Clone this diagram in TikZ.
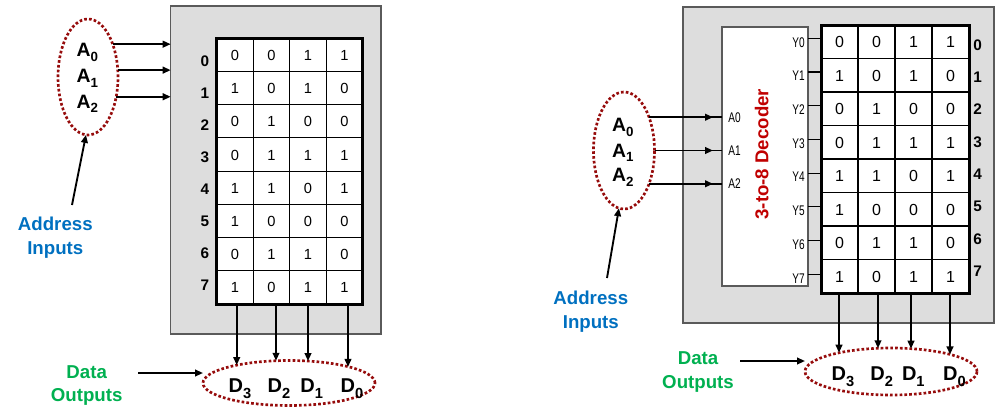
\documentclass[tikz,border=0pt]{standalone}
\usepackage{graphicx}
\usepackage{fontspec}
\setmainfont{Liberation Sans}
\usetikzlibrary{shapes.geometric,arrows.meta,calc}
\definecolor{boxgray}{RGB}{221,221,221}
\definecolor{boxedge}{RGB}{90,90,90}
\definecolor{dotred}{RGB}{150,12,12}
\definecolor{addrblue}{RGB}{0,112,192}
\definecolor{datagreen}{RGB}{0,176,80}
\definecolor{decred}{RGB}{192,0,0}
\newcommand{\subs}[1]{\raisebox{-3.5pt}{\fontsize{10}{11}\selectfont #1}}
\newcommand{\dsubs}[1]{\raisebox{-4.5pt}{\fontsize{11}{11}\selectfont #1}}
\newcommand{\narrowtxt}[1]{\scalebox{0.72}[1]{#1}}
\tikzset{
  graybox/.style={draw=boxedge, line width=0.8pt, fill=boxgray, inner sep=0pt, outer sep=0pt},
  tabbox/.style={draw=black, line width=2.25pt, fill=white, inner sep=0pt, outer sep=0pt},
  decbox/.style={draw=boxedge, line width=0.8pt, fill=white, inner sep=0pt, outer sep=0pt},
  gridline/.style={line width=0.85pt, draw=black},
  cell/.style={font=\fontsize{11}{12}\selectfont, inner sep=0pt},
  cellR/.style={font=\fontsize{12}{13}\selectfont, inner sep=0pt},
  rowlab/.style={font=\bfseries\fontsize{11.5}{12}\selectfont, inner sep=0pt},
  dotell/.style={ellipse, draw=dotred, line width=2pt, dash pattern=on 2pt off 1.6pt, inner sep=0pt, outer sep=0pt},
  alab/.style={font=\bfseries\fontsize{14.5}{16}\selectfont, inner sep=0pt, anchor=base},
  dlab/.style={font=\bfseries\fontsize{15}{16}\selectfont, inner sep=0pt, anchor=base},
  conn/.style={line width=1.4pt, -{Triangle[length=6pt,width=5pt]}},
  plainconn/.style={line width=1.4pt},
  addrtxt/.style={font=\bfseries\fontsize{14}{16}\selectfont, text=addrblue, inner sep=0pt, anchor=base},
  datatxt/.style={font=\bfseries\fontsize{14}{16}\selectfont, text=datagreen, inner sep=0pt, anchor=base},
  pinlab/.style={font=\fontsize{10.5}{11}\selectfont, inner sep=0pt},
  dectitle/.style={font=\bfseries\fontsize{14}{16}\selectfont, text=decred, inner sep=0pt, rotate=90},
}
\begin{document}
\begin{tikzpicture}[x=0.75pt,y=-0.75pt]
\useasboundingbox (0,0) rectangle (995,407);

% ================= LEFT DIAGRAM =================
\node[graybox, minimum width=157.7pt, minimum height=246pt] (grayL) at (275.85,170) {};
\node[tabbox, minimum width=109.5pt, minimum height=199.3pt] (tabL) at (289.7,171.15) {};
\foreach \i in {1,...,7}
  \draw[gridline] ($(tabL.north west)+(0,\i*33.2)$) -- ($(tabL.north east)+(0,\i*33.2)$);
\foreach \i in {1,2,3}
  \draw[gridline] ($(tabL.north west)+(\i*36.5,0)$) -- ($(tabL.south west)+(\i*36.5,0)$);
\draw[line width=2.25pt] (tabL.north west) rectangle (tabL.south east);
\foreach \r/\va/\vb/\vc/\vd in {0/0/0/1/1, 1/1/0/1/0, 2/0/1/0/0, 3/0/1/1/1, 4/1/1/0/1, 5/1/0/0/0, 6/0/1/1/0, 7/1/0/1/1} {
  \foreach \v [count=\k] in {\va,\vb,\vc,\vd}
    \node[cell] (cL-\r-\k) at ($(tabL.north west)+(\k*36.5-18.25,\r*33.2+17.2)$) {\v};
  \node[rowlab] (rL\r) at (205,61+32.1*\r) {\r};
}

% address ellipse
\node[dotell, minimum width=45pt, minimum height=87pt] (ellAL) at (88,77) {};
\node[alab] (aL0) at (87.3,56.7) {A\subs{0}};
\node[alab] (aL1) at (87.3,82.7) {A\subs{1}};
\node[alab] (aL2) at (87.3,108.3) {A\subs{2}};
\draw[conn] (ellAL.53.2) -- (ellAL.53.2 -| grayL.west);
\draw[conn] (ellAL.13.2) -- (ellAL.13.2 -| grayL.west);
\draw[conn] (ellAL.-35.4) -- (ellAL.-35.4 -| grayL.west);

\node[addrtxt] (addrL1) at (55.3,230) {Address};
\node[addrtxt] (addrL2) at (55.3,254) {Inputs};
\coordinate (paL) at (72,205);
\draw[conn] (paL) -- (ellAL.268);

% data ellipse
\node[dotell, minimum width=129pt, minimum height=33.75pt] (ellDL) at (289,383) {};
\node[dlab] (dL3) at (240,392) {D\dsubs{3}};
\node[dlab] (dL2) at (279,392) {D\dsubs{2}};
\node[dlab] (dL1) at (311.7,392) {D\dsubs{1}};
\node[dlab] (dL0) at (352,392) {D\dsubs{0}};
\coordinate (oL1) at ($(tabL.south west)+(20,0)$);
\coordinate (oL2) at ($(tabL.south west)+(59.3,0)$);
\coordinate (oL3) at ($(tabL.south west)+(91.3,0)$);
\coordinate (oL4) at ($(tabL.south west)+(131.3,0)$);
\draw[conn] (oL1) -- (oL1 |- ellDL.161.1);
\draw[conn] (oL2) -- (oL2 |- ellDL.120.3);
\draw[conn] (oL3) -- (oL3 |- ellDL.49.1);
\draw[conn] (oL4) -- (oL4 |- ellDL.15.5);

\node[datatxt] (dataL1) at (86.7,378.3) {Data};
\node[datatxt] (dataL2) at (86.7,401.7) {Outputs};
\coordinate (pdL) at (138,373);
\draw[conn] (pdL) -- (pdL -| ellDL.west);

% ================= RIGHT DIAGRAM =================
\node[graybox, minimum width=233.25pt, minimum height=237pt] (grayR) at (838.5,165) {};
\node[decbox, minimum width=64.5pt, minimum height=194.25pt] (decR) at (765,156.5) {};
\node[tabbox, minimum width=111pt, minimum height=201pt] (tabR) at (895,159) {};
\foreach \i in {1,...,7}
  \draw[gridline] ($(tabR.north west)+(0,\i*33.5)$) -- ($(tabR.north east)+(0,\i*33.5)$);
\foreach \i in {1,2,3}
  \draw[gridline] ($(tabR.north west)+(\i*37,0)$) -- ($(tabR.south west)+(\i*37,0)$);
\draw[line width=2.25pt] (tabR.north west) rectangle (tabR.south east);
\foreach \r/\va/\vb/\vc/\vd in {0/0/0/1/1, 1/1/0/1/0, 2/0/1/0/0, 3/0/1/1/1, 4/1/1/0/1, 5/1/0/0/0, 6/0/1/1/0, 7/1/0/1/1} {
  \foreach \v [count=\k] in {\va,\vb,\vc,\vd}
    \node[cellR] (cR-\r-\k) at ($(tabR.north west)+(\k*37-18.5,\r*33.5+17)$) {\v};
  \node[rowlab, anchor=west] (rR\r) at (973,45+32.3*\r) {\r};
}
\foreach \k in {0,...,7} {
  \coordinate (yk\k) at ($(decR.north east)+(0,11.3+33.7*\k)$);
  \draw[gridline] (yk\k) -- (yk\k -| tabR.west);
  \node[pinlab, anchor=east] (ylab\k) at ($(yk\k)+(-3,4)$) {\narrowtxt{Y\k}};
}
\node[dectitle] (dectxt) at (761.7,154.2) {3-to-8 Decoder};

% address ellipse right
\node[dotell, minimum width=45.75pt, minimum height=87.75pt] (ellAR) at (624,150.5) {};
\node[alab] (aR0) at (622.8,131.7) {A\subs{0}};
\node[alab] (aR1) at (622.8,157.3) {A\subs{1}};
\node[alab] (aR2) at (622.8,181.7) {A\subs{2}};
\foreach \ang/\n in {53.3/0, 0/1, -53.3/2} {
  \draw[plainconn] (ellAR.\ang) -- (ellAR.\ang -| decR.west);
  \draw[conn] (ellAR.\ang) -- ([xshift=-6.75pt]ellAR.\ang -| decR.west);
  \node[pinlab, anchor=west] (pa\n) at ($(ellAR.\ang -| decR.west)+(6,0)$) {\narrowtxt{A\n}};
}
\node[addrtxt] (addrR1) at (590.8,304) {Address};
\node[addrtxt] (addrR2) at (590.8,328) {Inputs};
\coordinate (paR) at (607,278);
\draw[conn] (paR) -- (ellAR.265);

% data ellipse right
\node[dotell, minimum width=129pt, minimum height=35.25pt] (ellDR) at (891,371.5) {};
\node[dlab] (dR3) at (843,380) {D\dsubs{3}};
\node[dlab] (dR2) at (881.7,380) {D\dsubs{2}};
\node[dlab] (dR1) at (913.3,380) {D\dsubs{1}};
\node[dlab] (dR0) at (954.5,380) {D\dsubs{0}};
\coordinate (oR1) at ($(tabR.south west)+(18,0)$);
\coordinate (oR2) at ($(tabR.south west)+(57,0)$);
\coordinate (oR3) at ($(tabR.south west)+(90,0)$);
\coordinate (oR4) at ($(tabR.south west)+(129,0)$);
\draw[conn] (oR1) -- (oR1 |- ellDR.160.2);
\draw[conn] (oR2) -- (oR2 |- ellDR.119.2);
\draw[conn] (oR3) -- (oR3 |- ellDR.48.8);
\draw[conn] (oR4) -- (oR4 |- ellDR.16.2);

\node[datatxt] (dataR1) at (698,364) {Data};
\node[datatxt] (dataR2) at (698,388) {Outputs};
\coordinate (pdR) at (740,361);
\draw[conn] (pdR) -- (pdR -| ellDR.west);
\end{tikzpicture}
\end{document}
